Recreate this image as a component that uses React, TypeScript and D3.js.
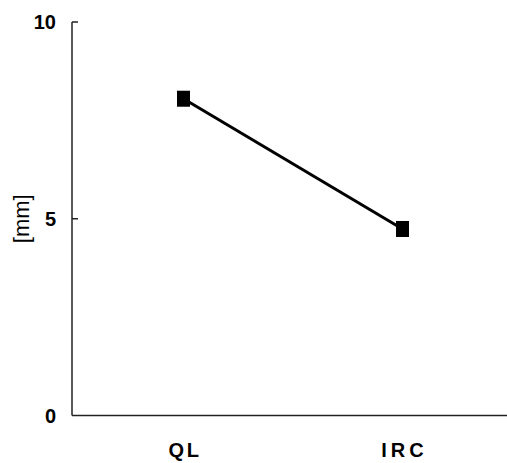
import React from "react";
import * as d3 from "d3";

const categories = ["QL", "IRC"];
const values = [8.05, 4.74];
const yTicks = [0, 5, 10];
const yLabel = "[mm]";

const W = 507;
const H = 463;

export default function App() {
  const x = d3.scalePoint<string>().domain(categories).range([74, 512]).padding(0.5);
  const y = d3.scaleLinear().domain([0, 10]).range([415.5, 22]);
  const line = d3
    .line<number>()
    .x((_, i) => x(categories[i]) as number)
    .y((d) => y(d));
  const font = "'Liberation Sans', Arial, sans-serif";
  return (
    <svg
      width={W}
      height={H}
      style={{ position: "absolute", left: 0, top: 0, background: "#fff" }}
    >
      <g fontFamily={font} fill="#000">
        {/* y axis */}
        <line x1={72} x2={72} y1={y(10)} y2={y(0)} stroke="#222" strokeWidth={1.5} />
        {yTicks.map((t) => (
          <g key={t}>
            {t > 0 && <line x1={72} x2={78} y1={y(t)} y2={y(t)} stroke="#222" strokeWidth={1.5} />}
            <text
              x={56}
              y={y(t)}
              dy="0.36em"
              textAnchor="end"
              fontSize={20}
              fontWeight="bold"
            >
              {t}
            </text>
          </g>
        ))}
        {/* x axis */}
        <line x1={72} x2={W} y1={y(0)} y2={y(0)} stroke="#222" strokeWidth={1.5} />
        {categories.map((c) => (
          <text
            key={c}
            x={(x(c) as number) + (c === "IRC" ? 2 : 1.5)}
            y={450}
            dy="0.36em"
            textAnchor="middle"
            fontSize={20}
            fontWeight="600"
            letterSpacing={c === "IRC" ? 4 : 2.5}
          >
            {c}
          </text>
        ))}
        <text
          transform={`translate(21,${y(5)}) rotate(-90)`}
          textAnchor="middle"
          dy="0.36em"
          fontSize={22}
        >
          {yLabel}
        </text>
        {/* series */}
        <path d={line(values) || ""} fill="none" stroke="#000" strokeWidth={3} />
        {values.map((v, i) => (
          <rect
            key={i}
            x={(x(categories[i]) as number) - 6.5}
            y={y(v) - 8}
            width={13}
            height={16}
            fill="#000"
          />
        ))}
      </g>
    </svg>
  );
}
